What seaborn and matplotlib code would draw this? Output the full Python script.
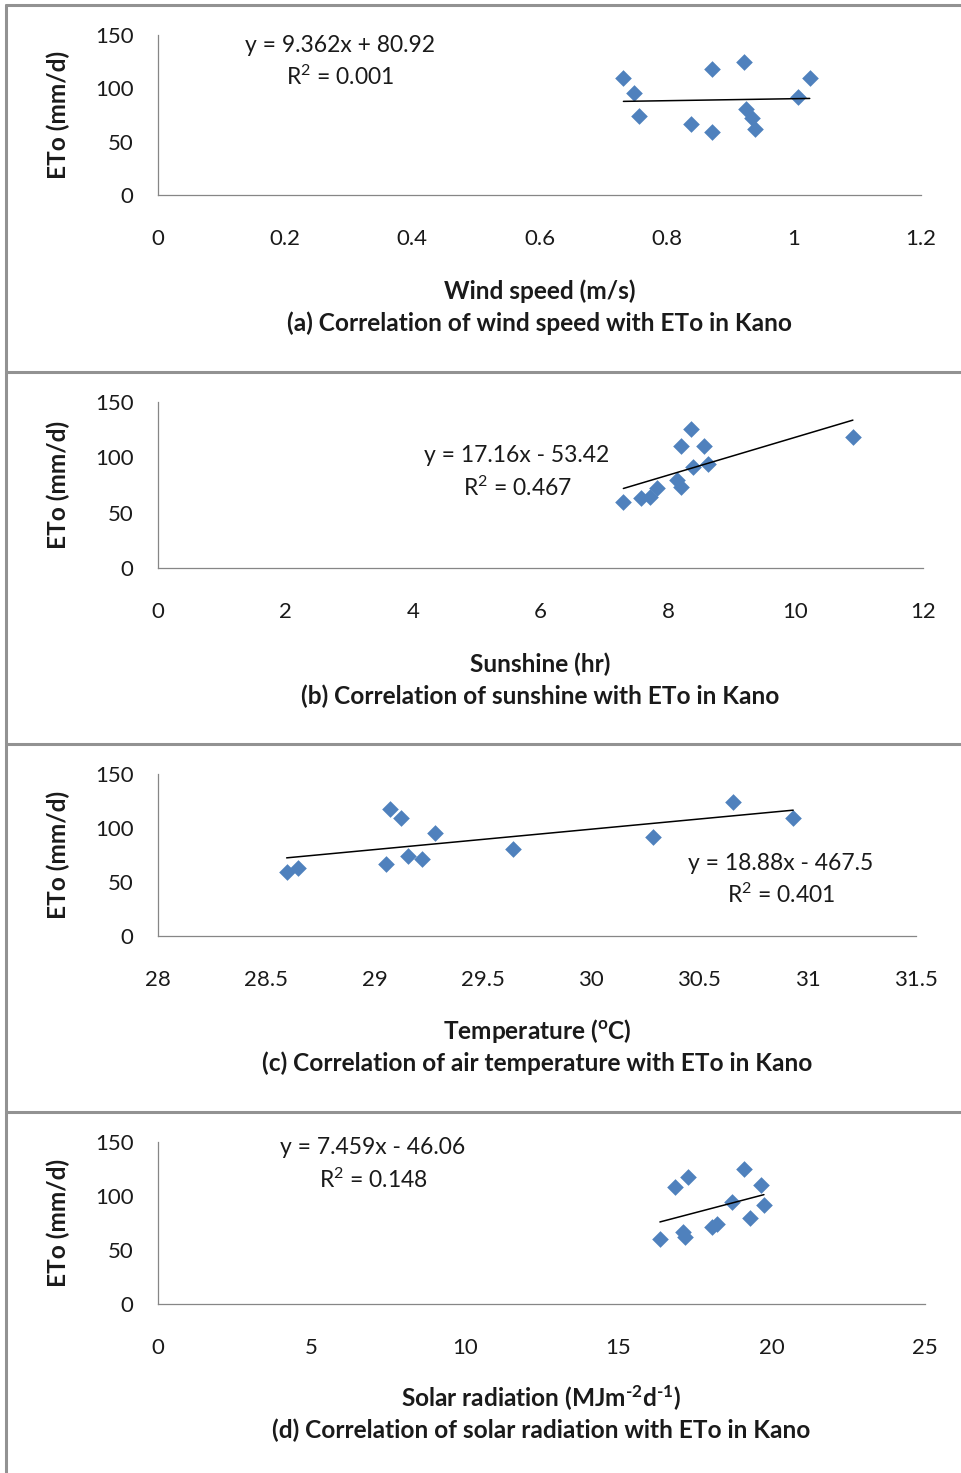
import matplotlib
matplotlib.use("Agg")
import matplotlib.pyplot as plt
from matplotlib.lines import Line2D
import seaborn as sns
import pandas as pd
import numpy as np

# ---------------- data ----------------
wind_speed = [0.732, 0.749, 0.757, 0.838, 0.872, 0.872, 0.922, 0.925, 0.934, 0.939, 1.007, 1.025]
eto_wind = [109.4, 95.3, 74.0, 66.2, 117.8, 59.4, 125.0, 80.3, 71.9, 61.6, 91.6, 109.4]

sunshine = [7.30, 7.58, 7.72, 7.82, 8.14, 8.20, 8.20, 8.36, 8.40, 8.57, 8.62, 10.90]
eto_sun = [59.9, 63.0, 64.4, 72.0, 79.5, 73.5, 110.2, 125.6, 91.5, 110.2, 93.7, 118.1]

temperature = [28.594, 28.645, 29.053, 29.071, 29.122, 29.153, 29.217, 29.279, 29.640, 30.287, 30.653, 30.933]
eto_temp = [59.5, 62.7, 66.4, 117.3, 109.0, 74.1, 71.3, 95.1, 80.3, 91.4, 124.4, 109.0]

solar = [16.36, 17.12, 17.18, 16.85, 17.29, 18.05, 18.23, 18.70, 19.11, 19.30, 19.65, 19.75]
eto_solar = [59.9, 67.0, 61.7, 108.6, 117.3, 71.6, 74.0, 94.7, 125.0, 79.3, 110.2, 91.7]

slopes = [9.362, 17.16, 18.88, 7.459]
intercepts = [80.92, -53.42, -467.5, -46.06]
equations = ["y = 9.362x + 80.92", "y = 17.16x - 53.42", "y = 18.88x - 467.5", "y = 7.459x - 46.06"]
r2_labels = ["R$^2$ = 0.001", "R$^2$ = 0.467", "R$^2$ = 0.401", "R$^2$ = 0.148"]

x_labels = ["Wind speed (m/s)", "Sunshine (hr)", "Temperature ($^{o}$C)",
            "Solar radiation (MJm$^{\u2010 2}$d$^{\u2010 1}$)"]
captions = ["(a) Correlation of wind speed with ETo in Kano",
            "(b) Correlation of sunshine with ETo in Kano",
            "(c) Correlation of air temperature with ETo in Kano",
            "(d) Correlation of solar radiation with ETo in Kano"]
x_ticks = [[0, 0.2, 0.4, 0.6, 0.8, 1, 1.2],
           [0, 2, 4, 6, 8, 10, 12],
           [28, 28.5, 29, 29.5, 30, 30.5, 31, 31.5],
           [0, 5, 10, 15, 20, 25]]
x_tick_labels = [["0", "0.2", "0.4", "0.6", "0.8", "1", "1.2"],
                 ["0", "2", "4", "6", "8", "10", "12"],
                 ["28", "28.5", "29", "29.5", "30", "30.5", "31", "31.5"],
                 ["0", "5", "10", "15", "20", "25"]]
y_ticks = [0, 50, 100, 150]
y_label = "ETo (mm/d)"

xs = [wind_speed, sunshine, temperature, solar]
ys = [eto_wind, eto_sun, eto_temp, eto_solar]

# ---------------- layout (pixels) ----------------
W, H = 962, 1473
sns.set_style("white")
plt.rcParams["font.family"] = ["Lato", "DejaVu Sans"]
plt.rcParams["mathtext.default"] = "regular"

fig = plt.figure(figsize=(W / 100, H / 100), dpi=100)
fig.patch.set_facecolor("white")

# axes boxes: left, right, top, bottom (px)
boxes = [(158, 921, 35, 195), (158, 923, 402, 568), (158, 916, 774, 936), (158, 925, 1142, 1304)]
eq_pos = [(340, 45, 77), (517, 456, 488), (781, 863, 895), (373, 1148, 1180)]
lab_y = [(291, 323), (664, 696), (1031, 1063), (1398, 1430)]
borders_y = [5, 372, 744, 1112]

axis_col = "#868686"
text_col = "#1a1a1a"
marker_col = "#4F81BD"

def fx(px):
    return px / W

def fy(py):
    return 1 - py / H

for i in range(4):
    l, r, t, b = boxes[i]
    ax = fig.add_axes([fx(l), fy(b), (r - l) / W, (b - t) / H])
    df = pd.DataFrame({"x": xs[i], "y": ys[i]})
    sns.scatterplot(data=df, x="x", y="y", ax=ax, marker="D", s=72,
                    color=marker_col, linewidth=0, zorder=3)
    x0, x1 = min(xs[i]), max(xs[i])
    line_df = pd.DataFrame({"x": [x0, x1],
                            "y": [slopes[i] * x0 + intercepts[i], slopes[i] * x1 + intercepts[i]]})
    sns.lineplot(data=line_df, x="x", y="y", ax=ax, color="black", linewidth=1.1, zorder=4)
    ax.set_xlim(x_ticks[i][0], x_ticks[i][-1])
    ax.set_ylim(0, 150)
    ax.set_xticks(x_ticks[i])
    ax.set_xticklabels(x_tick_labels[i])
    ax.set_yticks(y_ticks)
    ax.set_yticklabels([str(v) for v in y_ticks])
    ax.set_xlabel("")
    ax.set_ylabel("")
    for s in ["top", "right"]:
        ax.spines[s].set_visible(False)
    for s in ["left", "bottom"]:
        ax.spines[s].set_color(axis_col)
        ax.spines[s].set_linewidth(0.9)
    ax.tick_params(axis="both", which="major", direction="out", length=5.5, width=0.9,
                   color=axis_col, labelsize=16, labelcolor=text_col)
    ax.tick_params(axis="y", pad=12)
    ax.tick_params(axis="x", pad=19)
    ax.set_facecolor("none")

    # equation text
    cx, ey, ry = eq_pos[i]
    fig.text(fx(cx), fy(ey), equations[i], ha="center", va="center", fontsize=16.5, color=text_col)
    fig.text(fx(cx), fy(ry), r2_labels[i], ha="center", va="center", fontsize=16.5, color=text_col)

    # labels
    xc = (l + r) / 2
    fig.text(fx(xc), fy(lab_y[i][0]), x_labels[i], ha="center", va="center",
             fontsize=17.6, fontweight="bold", color=text_col)
    fig.text(fx(xc), fy(lab_y[i][1]), captions[i], ha="center", va="center",
             fontsize=17.6, fontweight="bold", color=text_col)
    fig.text(fx(58), fy((t + b) / 2), y_label, ha="center", va="center", rotation=90,
             fontsize=17.6, fontweight="bold", color=text_col)

# panel borders
border_col = "#929292"
for by in borders_y:
    fig.add_artist(Line2D([fx(6), fx(W)], [fy(by), fy(by)], color=border_col, linewidth=2.2))
fig.add_artist(Line2D([fx(6), fx(6)], [fy(5), fy(H)], color=border_col, linewidth=2.2))

fig.savefig("out.png", dpi=100, facecolor="white")
